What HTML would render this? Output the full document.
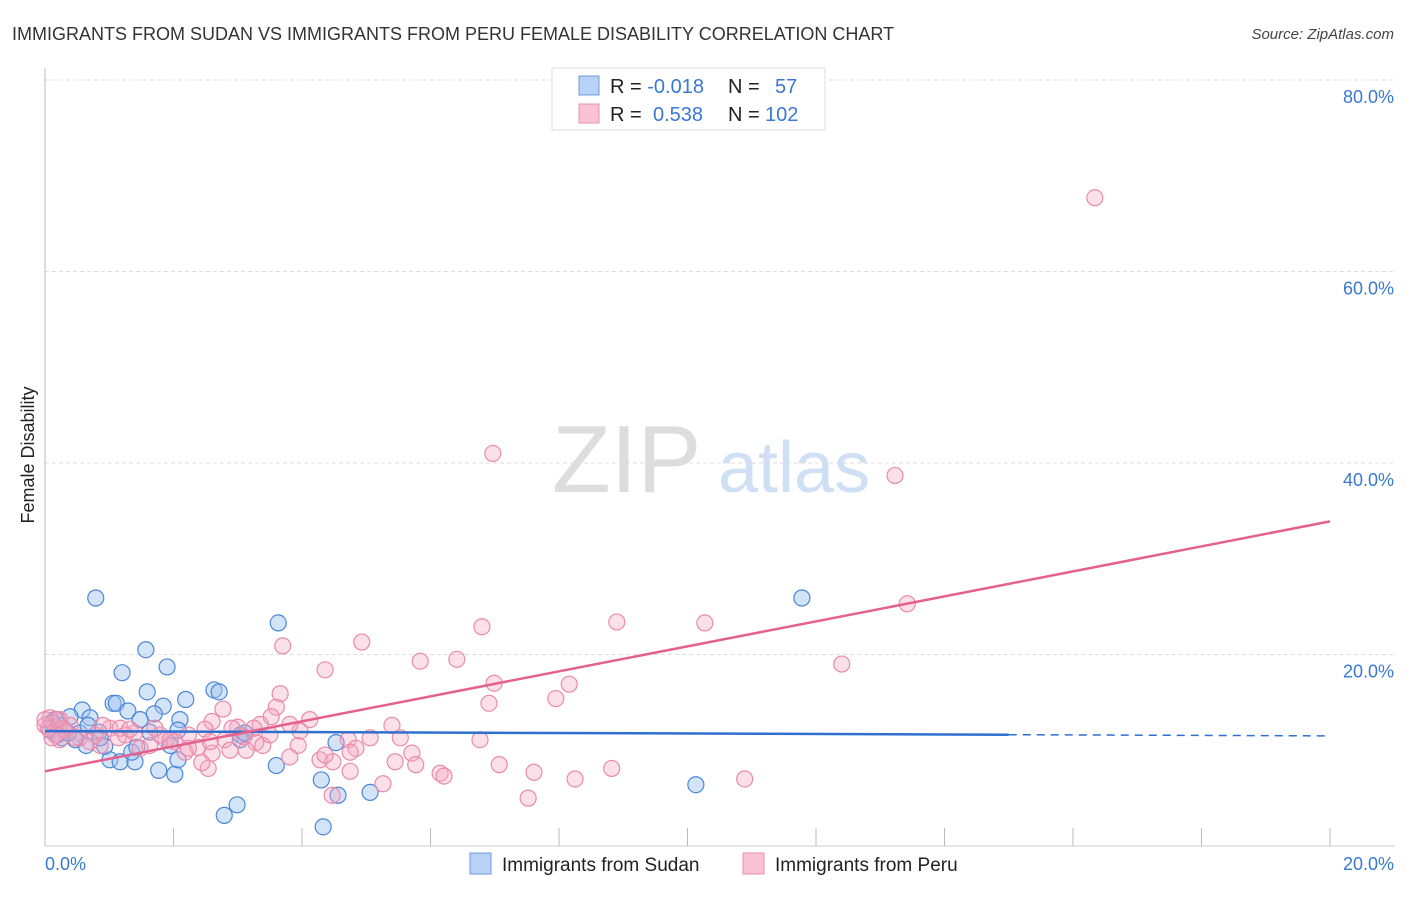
<!DOCTYPE html>
<html><head><meta charset="utf-8"><style>
body{margin:0;background:#fff;font-family:"Liberation Sans",sans-serif}
svg text{font-family:"Liberation Sans",sans-serif}
</style></head><body>
<svg id="chart" width="1406" height="892" viewBox="0 0 1406 892" xmlns="http://www.w3.org/2000/svg">
<text x="12" y="40" font-size="18" fill="#333">IMMIGRANTS FROM SUDAN VS IMMIGRANTS FROM PERU FEMALE DISABILITY CORRELATION CHART</text>
<text x="1394" y="39" font-size="15" fill="#444" font-style="italic" text-anchor="end">Source: ZipAtlas.com</text>
<g>
<text x="552" y="492" font-size="96" fill="#ddd" font-family="Liberation Serif, serif">ZIP</text>
<text x="718" y="492" font-size="72" fill="#cfe0f5">atlas</text>
</g>
<g id="grid"></g>
<line x1="45" y1="68" x2="45" y2="846" stroke="#bbb"/>
<line x1="45" y1="846" x2="1395" y2="846" stroke="#ccc"/>
<g id="xticks"></g>
<g id="ylabels"></g>
<text x="45" y="870" font-size="18" fill="#3a78d4">0.0%</text>
<text x="1394" y="870" font-size="18" fill="#3a78d4" text-anchor="end">20.0%</text>
<text transform="translate(34,455) rotate(-90)" font-size="18" fill="#222" text-anchor="middle">Female Disability</text>
<g id="pts"></g>
<g id="trends"></g>
<g>
<rect x="552" y="68" width="273" height="62" fill="#fff" stroke="#ddd"/>
<rect x="579" y="76" width="20" height="19" fill="#b8d2f5" stroke="#6c9be0"/>
<rect x="579" y="104" width="20" height="19" fill="#f9c3d3" stroke="#ec8fae"/>
<text x="610" y="93" font-size="20" fill="#222">R = <tspan fill="#3a78d4">-0.018</tspan><tspan x="728">N =</tspan><tspan x="775" fill="#3a78d4">57</tspan></text>
<text x="610" y="121" font-size="20" fill="#222">R = <tspan x="653" fill="#3a78d4">0.538</tspan><tspan x="728">N =</tspan><tspan x="765" fill="#3a78d4">102</tspan></text>
</g>
<g>
<rect x="470" y="853" width="21" height="21" fill="#b8d2f5" stroke="#6c9be0"/>
<text x="502" y="871" font-size="19" fill="#222">Immigrants from Sudan</text>
</g>
<g>
<rect x="743" y="853" width="21" height="21" fill="#f9c3d3" stroke="#ec8fae"/>
<text x="775" y="871" font-size="19" fill="#222">Immigrants from Peru</text>
</g>
</svg>
<script>
const yTicks=[20,40,60,80];
const xTickVals=[2,4,6,8,10,12,14,16,18,20];
const sudanX=[0.79,1.57,1.90,1.20,1.06,1.11,1.59,2.19,2.63,2.71,1.84,1.29,3.63,0.58,0.39,0.70,0.16,0.23,0.08,0.54,0.84,1.48,1.70,2.10,2.07,3.04,1.01,1.17,1.40,1.35,1.77,2.02,2.07,1.95,1.43,0.93,0.64,0.47,0.26,3.60,4.30,4.53,4.56,5.06,2.99,2.79,4.33,11.78,10.13,1.63,0.86,0.19,0.36,0.67,3.04,3.11,0.11];
const sudanY=[25.9,20.5,18.7,18.1,14.9,14.9,16.1,15.3,16.3,16.1,14.6,14.1,23.3,14.2,13.5,13.4,13.2,12.6,12.1,11.8,11.9,13.2,13.8,13.2,12.1,11.6,9.0,8.8,8.8,9.8,7.9,7.5,9.0,10.5,10.3,10.4,10.5,11.1,11.3,8.4,6.9,10.8,5.3,5.6,4.3,3.2,2.0,25.9,6.4,11.9,11.3,11.6,11.8,12.6,11.1,11.8,12.9];
const peruX=[16.34,6.97,13.23,13.42,8.90,10.27,6.80,3.70,4.93,4.36,5.84,6.41,12.40,6.99,8.16,7.95,6.91,3.66,3.60,2.77,3.52,4.12,3.00,2.60,3.35,5.40,2.49,3.97,6.77,5.53,4.72,3.94,4.84,5.06,3.10,3.28,2.80,2.38,2.23,1.88,1.63,1.25,1.01,0.78,0.39,0.23,0.08,0.00,0.16,0.31,0.54,1.14,1.40,1.79,2.02,1.48,2.88,2.60,3.13,3.39,3.81,4.28,4.48,4.36,4.75,5.45,5.71,5.77,4.75,4.47,5.26,6.15,6.21,7.07,7.61,7.52,8.25,8.82,10.89,2.54,2.44,2.18,1.95,0.86,0.70,0.47,0.28,0.19,1.17,1.32,1.71,2.23,2.57,3.50,3.81,3.25,2.91,0.90,0.05,0.00,0.11,0.23];
const peruY=[67.7,41.0,38.7,25.3,23.4,23.3,22.9,20.9,21.3,18.4,19.3,19.5,19.0,17.0,16.9,15.4,14.9,15.9,14.5,14.3,13.5,13.2,12.4,13.0,12.7,12.6,12.2,12.0,11.1,11.3,11.1,10.5,10.2,11.3,11.4,10.8,11.1,10.3,11.6,11.1,10.5,11.6,12.3,11.6,12.6,13.2,13.4,12.6,11.6,12.1,11.3,11.3,11.8,11.6,10.9,10.2,10.0,9.7,10.0,10.5,9.3,9.0,8.8,9.5,9.8,8.8,9.7,8.5,7.8,5.3,6.5,7.6,7.3,8.5,7.7,5.0,7.0,8.1,7.0,8.1,8.7,9.8,11.1,10.5,10.9,11.3,12.3,13.2,12.3,12.2,12.3,10.2,10.9,11.6,12.7,12.3,12.3,12.6,12.3,13.2,11.3,11.1];
const sudanTrend=[12.0,11.5];
const peruTrend=[7.8,33.9];
const sudanSolidEnd=15;
const X0=45,X1=1330,Y0=846,PX=(X1-X0)/20,PY=191.5/20;
const sx=v=>X0+v*PX, sy=v=>Y0-v*PY;
const NS="http://www.w3.org/2000/svg";
function mk(tag,attrs,parent){const e=document.createElementNS(NS,tag);for(const k in attrs)e.setAttribute(k,attrs[k]);parent.appendChild(e);return e;}
const grid=document.getElementById('grid'),yl=document.getElementById('ylabels');
yTicks.forEach(t=>{
 const l=mk('line',{x1:45,x2:1395,y1:sy(t),y2:sy(t),stroke:'#ddd','stroke-dasharray':'4,3'},grid);
 
 
 const tx=mk('text',{x:1394,y:sy(t)+23,'font-size':18,fill:'#3a78d4','text-anchor':'end'},yl);
 tx.textContent=t.toFixed(1)+'%';
 
 
});
const xt=document.getElementById('xticks');
xTickVals.forEach(t=>{
 const l=mk('line',{x1:sx(t),x2:sx(t),y1:828,y2:846,stroke:'#bbb'},xt);
 
 
});
const pts=document.getElementById('pts');
sudanX.forEach((x,i)=>{
 const c=mk('circle',{cx:sx(x),cy:sy(sudanY[i]),r:8,fill:'rgba(160,195,240,0.45)',stroke:'#4a86d8','stroke-width':1.2},pts);
 
 
});
peruX.forEach((x,i)=>{
 const c=mk('circle',{cx:sx(x),cy:sy(peruY[i]),r:8,fill:'rgba(244,167,191,0.35)',stroke:'#eb8aa9','stroke-width':1.2},pts);
 
 
});
const tr=document.getElementById('trends');
const bAt=x=>sudanTrend[0]+(sudanTrend[1]-sudanTrend[0])*x/20;
const l1=mk('line',{x1:sx(0),y1:sy(bAt(0)),x2:sx(sudanSolidEnd),y2:sy(bAt(sudanSolidEnd)),stroke:'#2f6fd0','stroke-width':2.5},tr);


const l2=mk('line',{x1:sx(sudanSolidEnd),y1:sy(bAt(sudanSolidEnd)),x2:sx(20),y2:sy(bAt(20)),stroke:'#2f6fd0','stroke-width':1.5,'stroke-dasharray':'8,6'},tr);


const l3=mk('line',{x1:sx(0),y1:sy(peruTrend[0]),x2:sx(20),y2:sy(peruTrend[1]),stroke:'#e5608e','stroke-width':2.5},tr);


</script>
</body></html>
